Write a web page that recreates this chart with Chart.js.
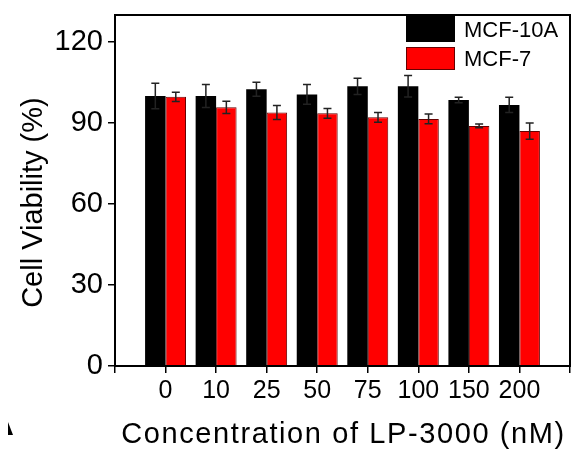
<!DOCTYPE html>
<html lang="en">
<head>
    <meta charset="UTF-8">
    <title>Cell Viability</title>
    <script src="https://cdn.jsdelivr.net/npm/chart.js"></script>
    <style>
        body {
            margin: 0;
            padding: 0;
            background-color: #ffffff;
        }

        .chart-box {
            width: 573px;
            height: 452px;
        }
    </style>
</head>
<body>
    <div class="chart-box">
        <canvas id="chart1" width="573" height="452"></canvas>
    </div>

    <script>
        // empty labels at both ends give the frame ticks left and right
        var categorias = ['', '0', '10', '25', '50', '75', '100', '150', '200', ''];
        var mcf10a = [null, 100, 100, 102.5, 100.6, 103.6, 103.6, 98.5, 96.7, null];
        var mcf10aErro = [null, 4.7, 4.3, 2.6, 3.7, 3.0, 4.0, 1.0, 2.8, null];
        var mcf7 = [null, 99.7, 95.8, 93.9, 93.6, 92.1, 91.5, 88.9, 87.0, null];
        var mcf7Erro = [null, 1.7, 2.3, 2.6, 1.8, 1.8, 1.8, 0.7, 3.0, null];
        var ticksY = [0, 30, 60, 90, 120];
        var tituloX = 'Concentration of LP-3000 (nM)';

        var fonte = '"Liberation Sans", Arial, sans-serif';

        var errorBars = {
            id: 'errorBars',
            afterDatasetsDraw: function (chart) {
                var ctx = chart.ctx;
                var y = chart.scales.y;
                var erros = [mcf10aErro, mcf7Erro];
                ctx.save();
                ctx.strokeStyle = '#222';
                ctx.lineWidth = 1.5;
                chart.data.datasets.forEach(function (ds, i) {
                    var meta = chart.getDatasetMeta(i);
                    meta.data.forEach(function (bar, j) {
                        var v = ds.data[j];
                        if (v === null) return;
                        var e = erros[i][j];
                        var top = y.getPixelForValue(v + e);
                        var bot = y.getPixelForValue(v - e);
                        ctx.beginPath();
                        ctx.moveTo(bar.x, top);
                        ctx.lineTo(bar.x, bot);
                        ctx.moveTo(bar.x - 4, top);
                        ctx.lineTo(bar.x + 4, top);
                        ctx.moveTo(bar.x - 4, bot);
                        ctx.lineTo(bar.x + 4, bot);
                        ctx.stroke();
                    });
                });
                ctx.restore();
            }
        };

        var moldura = {
            id: 'moldura',
            afterDraw: function (chart) {
                var ctx = chart.ctx;
                var a = chart.chartArea;
                ctx.save();
                ctx.strokeStyle = '#000';
                ctx.lineWidth = 2;
                ctx.strokeRect(a.left, a.top, a.right - a.left, a.bottom - a.top);

                // legenda
                var ds = chart.data.datasets;
                ctx.fillStyle = ds[0].backgroundColor;
                ctx.fillRect(406, 14, 49, 28);
                ctx.fillStyle = ds[1].backgroundColor;
                ctx.fillRect(406, 47, 49, 23);
                ctx.strokeStyle = '#600';
                ctx.lineWidth = 1;
                ctx.strokeRect(406.5, 47.5, 48, 22);
                ctx.fillStyle = '#000';
                ctx.font = '22px ' + fonte;
                ctx.textBaseline = 'alphabetic';
                ctx.fillText(ds[0].label, 464, 37);
                ctx.fillText(ds[1].label, 464, 66);

                // titulo do eixo x, um pouco espaçado
                ctx.font = '29px ' + fonte;
                ctx.letterSpacing = '1.6px';
                ctx.textAlign = 'center';
                ctx.fillText(tituloX, (a.left + a.right) / 2 + 1, 443);
                ctx.letterSpacing = '0px';
                ctx.textAlign = 'left';

                // marca no canto
                ctx.beginPath();
                ctx.moveTo(8, 422);
                ctx.lineTo(8, 435);
                ctx.lineTo(13, 435);
                ctx.closePath();
                ctx.fill();
                ctx.restore();
            }
        };

        var ctx1 = document.getElementById('chart1').getContext('2d');
        var chart1 = new Chart(ctx1, {
            type: 'bar',
            data: {
                labels: categorias,
                datasets: [{
                    label: 'MCF-10A',
                    data: mcf10a,
                    backgroundColor: '#000000',
                    borderColor: '#000000',
                    borderWidth: 0
                }, {
                    label: 'MCF-7',
                    data: mcf7,
                    backgroundColor: '#ff0000',
                    borderColor: '#660000',
                    borderWidth: 1
                }]
            },
            plugins: [errorBars, moldura],
            options: {
                responsive: false,
                animation: false,
                devicePixelRatio: 1,
                categoryPercentage: 0.81,
                barPercentage: 1.0,
                layout: {
                    padding: { top: 15, right: 3, left: 0, bottom: 0 }
                },
                plugins: {
                    legend: { display: false },
                    tooltip: { enabled: false }
                },
                scales: {
                    x: {
                        type: 'category',
                        offset: false,
                        grid: {
                            offset: false,
                            drawOnChartArea: false,
                            drawTicks: true,
                            tickLength: 7,
                            color: '#000',
                            lineWidth: 1.5
                        },
                        border: { color: '#000', width: 2 },
                        ticks: {
                            color: '#000',
                            font: { family: fonte, size: 25 },
                            padding: 3,
                            maxRotation: 0,
                            autoSkip: false
                        },
                        afterFit: function (scale) {
                            scale.height = 86;
                            scale.paddingLeft = 0;
                            scale.paddingRight = 0;
                        }
                    },
                    y: {
                        min: 0,
                        max: 130,
                        grid: {
                            drawOnChartArea: false,
                            drawTicks: true,
                            tickLength: 7,
                            color: '#000',
                            lineWidth: 1.5
                        },
                        border: { color: '#000', width: 2 },
                        ticks: {
                            color: '#000',
                            font: { family: fonte, size: 29 },
                            padding: 5
                        },
                        afterBuildTicks: function (scale) {
                            scale.ticks = ticksY.map(function (v) { return { value: v }; });
                        },
                        title: {
                            display: true,
                            text: 'Cell Viability (%)   ',
                            color: '#000',
                            font: { family: fonte, size: 29 },
                            padding: { top: 17, bottom: 0 }
                        },
                        afterFit: function (scale) {
                            scale.width = 115;
                            scale.paddingTop = 0;
                            scale.paddingBottom = 0;
                        }
                    }
                }
            }
        });
    </script>
</body>
</html>
